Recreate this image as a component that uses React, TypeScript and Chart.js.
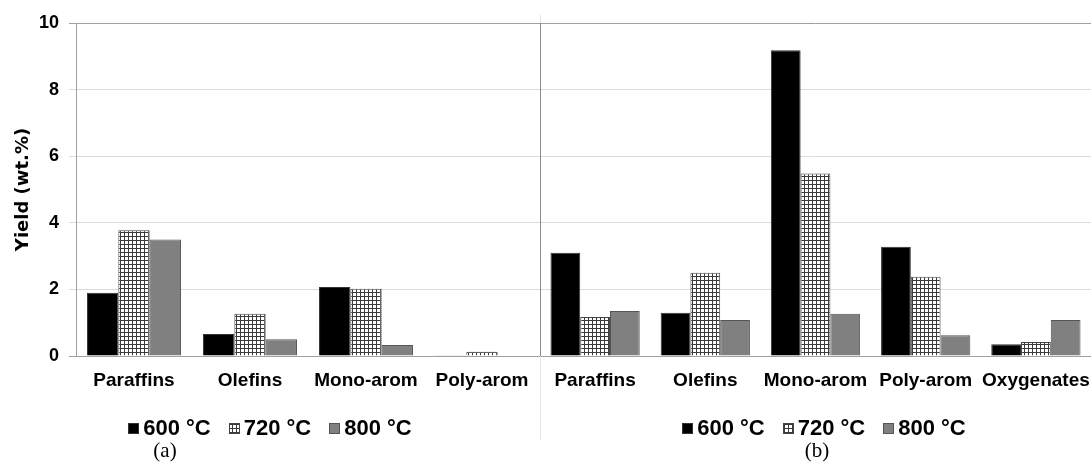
import React, { useEffect, useRef } from "react";
import { Chart, registerables } from "chart.js";

Chart.register(...registerables);

const categoriesA = ["Paraffins", "Olefins", "Mono-arom", "Poly-arom"];
const categoriesB = ["Paraffins", "Olefins", "Mono-arom", "Poly-arom", "Oxygenates"];
const seriesLabels = ["600 °C", "720 °C", "800 °C"];

const a600 = [1.9, 0.66, 2.07, 0.02];
const a720 = [3.78, 1.27, 2.02, 0.13];
const a800 = [3.5, 0.5, 0.33, 0];

const b600 = [3.1, 1.3, 9.18, 3.28, 0.35];
const b720 = [1.17, 2.5, 5.48, 2.38, 0.42];
const b800 = [1.35, 1.08, 1.27, 0.62, 1.08];

const yMin = 0;
const yMax = 10;
const yStep = 2;
const yTitle = "Yield (wt.%)";
const panelLabels = ["(a)", "(b)"];

const W = 1091;
const H = 464;
const PLOT_TOP = 23;
const PLOT_BOTTOM = 356;
const SPLIT = 540;
const X_AXIS_H = 40;

function makeGridPattern(): CanvasPattern | string {
  const c = document.createElement("canvas");
  c.width = 4;
  c.height = 4;
  const g = c.getContext("2d");
  if (!g) return "#fff";
  g.fillStyle = "#ffffff";
  g.fillRect(0, 0, 4, 4);
  g.fillStyle = "#3a3a3a";
  g.fillRect(0, 0, 4, 1);
  g.fillRect(0, 0, 1, 4);
  const p = g.createPattern(c, "repeat");
  return p || "#fff";
}

const legendPlugin = {
  id: "customLegend",
  afterDraw(chart: any, _args: any, opts: any) {
    const ctx: CanvasRenderingContext2D = chart.ctx;
    ctx.save();
    ctx.font = 'bold 22px "Liberation Sans", Arial, sans-serif';
    ctx.textBaseline = "middle";
    const box = 11;
    const gap = 4;
    const spacing = 18;
    const items = chart.data.datasets.map((d: any) => ({
      label: d.label,
      fill: d.backgroundColor,
      stroke: d.borderColor,
      w: ctx.measureText(d.label).width,
    }));
    let total = 0;
    items.forEach((it: any, i: number) => {
      total += box + gap + it.w + (i > 0 ? spacing : 0);
    });
    let x = opts.centerX - total / 2;
    const y = opts.y;
    items.forEach((it: any) => {
      ctx.fillStyle = it.fill;
      ctx.fillRect(Math.round(x), Math.round(y - box / 2), box, box);
      ctx.strokeStyle = it.stroke;
      ctx.lineWidth = 1;
      ctx.strokeRect(Math.round(x) + 0.5, Math.round(y - box / 2) + 0.5, box - 1, box - 1);
      x += box + gap;
      ctx.fillStyle = "#000";
      ctx.textAlign = "left";
      ctx.fillText(it.label, x, y + 1);
      x += it.w + spacing;
    });
    ctx.restore();
  },
};

const dividerPlugin = {
  id: "divider",
  afterDraw(chart: any, _args: any, opts: any) {
    if (!opts || !opts.enabled) return;
    const ctx: CanvasRenderingContext2D = chart.ctx;
    const x = chart.chartArea.left + 0.5;
    ctx.save();
    ctx.lineWidth = 1;
    ctx.strokeStyle = "#e2e2e2";
    ctx.beginPath();
    ctx.moveTo(x, 15);
    ctx.lineTo(x, PLOT_TOP);
    ctx.moveTo(x, PLOT_BOTTOM);
    ctx.lineTo(x, 440);
    ctx.stroke();
    ctx.strokeStyle = "#8c8c8c";
    ctx.beginPath();
    ctx.moveTo(x, PLOT_TOP);
    ctx.lineTo(x, PLOT_BOTTOM);
    ctx.stroke();
    ctx.restore();
  },
};

function buildDatasets(d600: number[], d720: number[], d800: number[], pattern: any) {
  const common = {
    borderWidth: 1,
    barPercentage: 1,
    categoryPercentage: 0.81,
  };
  return [
    { label: seriesLabels[0], data: d600, backgroundColor: "#000000", borderColor: "#333333", ...common },
    { label: seriesLabels[1], data: d720, backgroundColor: pattern, borderColor: "#444444", ...common },
    { label: seriesLabels[2], data: d800, backgroundColor: "#808080", borderColor: "#555555", ...common },
  ];
}

const gridColor = (ctx: any) => {
  const v = ctx.tick ? ctx.tick.value : null;
  if (v === yMax || v === yMin) return "#a0a0a0";
  return "#dcdcdc";
};

function makeOptions(withYAxis: boolean, legendCenter: number, dividerEnabled: boolean): any {
  return {
    responsive: false,
    animation: false,
    layout: {
      padding: { top: PLOT_TOP, left: 0, right: 0, bottom: H - PLOT_BOTTOM - X_AXIS_H },
    },
    plugins: {
      legend: { display: false },
      tooltip: { enabled: false },
      customLegend: { centerX: legendCenter, y: 428 },
      divider: { enabled: dividerEnabled },
    },
    scales: {
      x: {
        grid: { display: false, drawTicks: false },
        border: { display: true, color: "#a0a0a0", width: 1 },
        ticks: {
          color: "#000",
          padding: 13,
          maxRotation: 0,
          autoSkip: false,
          font: { family: '"Liberation Sans", Arial, sans-serif', size: 19, weight: "bold" },
        },
        afterFit: (s: any) => {
          s.height = X_AXIS_H;
          s.paddingLeft = 0;
          s.paddingRight = 0;
        },
      },
      y: {
        min: yMin,
        max: yMax,
        grid: {
          color: gridColor,
          drawTicks: withYAxis,
          tickLength: 7,
          lineWidth: 1,
        },
        border: { display: withYAxis, color: "#a0a0a0", width: 1 },
        ticks: {
          display: withYAxis,
          stepSize: yStep,
          color: "#000",
          padding: 10,
          font: { family: '"Liberation Sans", Arial, sans-serif', size: 18, weight: "bold" },
        },
        title: {
          display: withYAxis,
          text: yTitle,
          color: "#000",
          padding: { top: 13, bottom: 0 },
          font: { family: '"DejaVu Sans", sans-serif', size: 18, weight: "bold" },
        },
        afterFit: (s: any) => {
          s.width = withYAxis ? 76 : 0;
          s.paddingTop = 0;
          s.paddingBottom = 0;
        },
      },
    },
  };
}

export default function App() {
  const refA = useRef<HTMLCanvasElement>(null);
  const refB = useRef<HTMLCanvasElement>(null);

  useEffect(() => {
    if (!refA.current || !refB.current) return;
    const pattern = makeGridPattern();
    const chartA = new Chart(refA.current, {
      type: "bar",
      data: { labels: categoriesA, datasets: buildDatasets(a600, a720, a800, pattern) as any },
      options: makeOptions(true, 270, false),
      plugins: [legendPlugin, dividerPlugin],
    } as any);
    const chartB = new Chart(refB.current, {
      type: "bar",
      data: { labels: categoriesB, datasets: buildDatasets(b600, b720, b800, pattern) as any },
      options: makeOptions(false, 284, true),
      plugins: [legendPlugin, dividerPlugin],
    } as any);
    return () => {
      chartA.destroy();
      chartB.destroy();
    };
  }, []);

  const serif: React.CSSProperties = {
    position: "absolute",
    top: 438,
    fontFamily: '"Liberation Serif", "Times New Roman", serif',
    fontSize: 21,
    color: "#000",
    transform: "translateX(-50%)",
    lineHeight: "24px",
  };

  return (
    <div style={{ position: "absolute", left: 0, top: 0, width: W, height: H, background: "#fff", overflow: "hidden" }}>
      <canvas ref={refA} width={SPLIT} height={H} style={{ position: "absolute", left: 0, top: 0, display: "block" }} />
      <canvas
        ref={refB}
        width={W - SPLIT}
        height={H}
        style={{ position: "absolute", left: SPLIT, top: 0, display: "block" }}
      />
      <div style={{ ...serif, left: 165 }}>{panelLabels[0]}</div>
      <div style={{ ...serif, left: 817 }}>{panelLabels[1]}</div>
    </div>
  );
}
